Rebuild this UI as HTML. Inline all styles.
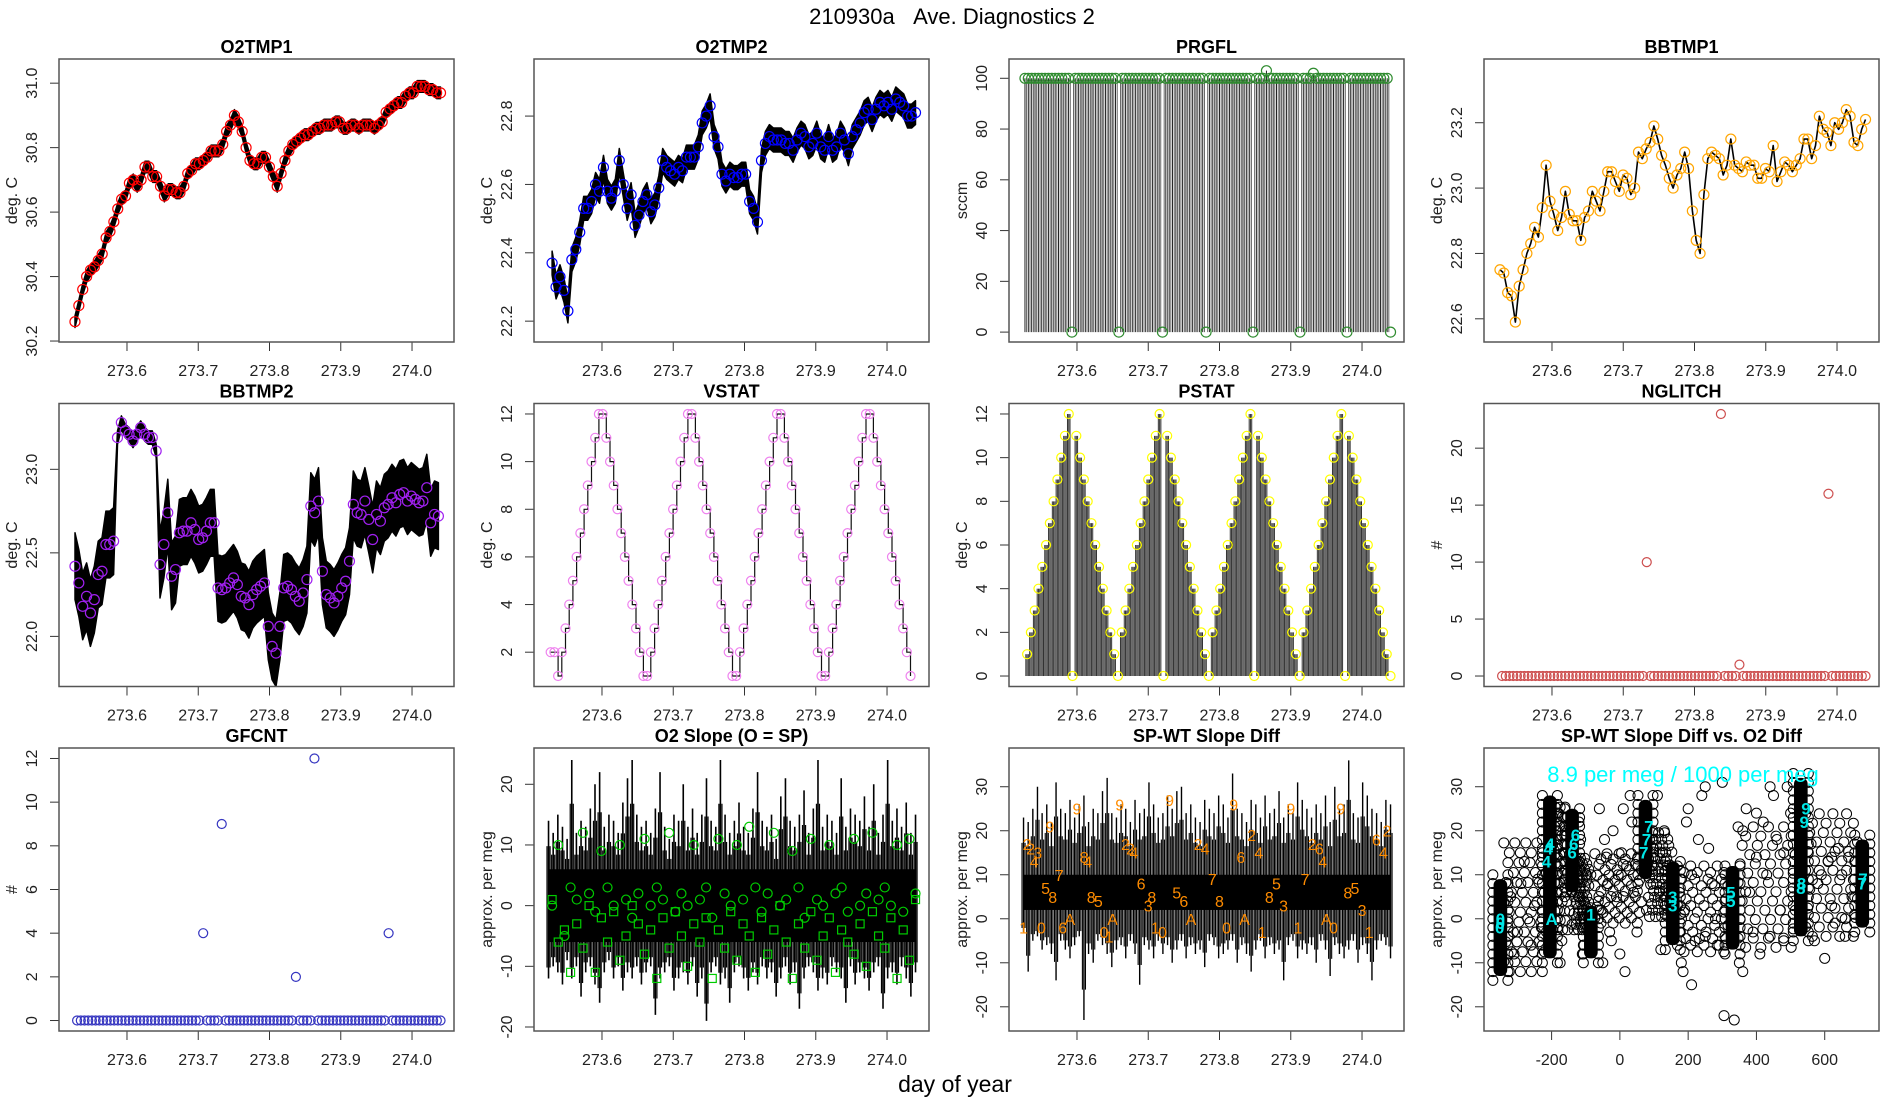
<!DOCTYPE html>
<html><head><meta charset="utf-8"><title>210930a Ave. Diagnostics 2</title>
<style>html,body{margin:0;padding:0;background:#fff}svg{display:block;font-family:"Liberation Sans",sans-serif}</style>
</head><body>
<svg id="chart" width="1900" height="1100" viewBox="0 0 1900 1100" xmlns="http://www.w3.org/2000/svg">
<rect x="0" y="0" width="1900" height="1100" fill="#fff"/>
<text x="952" y="24" font-size="22" text-anchor="middle">210930a &#160;&#160;Ave. Diagnostics 2</text>
<text x="955" y="1092" font-size="23" text-anchor="middle">day of year</text>
</svg>
<script>
// ---------- data ----------
const timeTicks = [273.6, 273.7, 273.8, 273.9, 274.0];
const timeTickLabels = ["273.6", "273.7", "273.8", "273.9", "274.0"];

const o2tmp1Values = [30.26,30.31,30.36,30.40,30.42,30.43,30.45,30.47,30.52,30.54,30.57,30.61,30.64,30.65,30.69,30.70,30.68,30.70,30.74,30.74,30.71,30.71,30.68,30.65,30.67,30.67,30.66,30.66,30.68,30.72,30.73,30.75,30.75,30.76,30.77,30.79,30.79,30.79,30.81,30.85,30.87,30.90,30.88,30.85,30.80,30.76,30.75,30.75,30.77,30.77,30.74,30.71,30.68,30.72,30.76,30.79,30.81,30.82,30.83,30.84,30.84,30.85,30.86,30.86,30.87,30.87,30.87,30.88,30.88,30.86,30.86,30.87,30.87,30.86,30.87,30.87,30.87,30.86,30.87,30.88,30.91,30.92,30.93,30.94,30.94,30.96,30.97,30.97,30.99,30.99,30.99,30.98,30.98,30.97,30.97];
const o2tmp1Ticks = [30.2, 30.4, 30.6, 30.8, 31.0];

const o2tmp2Values = [22.37,22.30,22.33,22.29,22.23,22.38,22.41,22.46,22.53,22.53,22.55,22.60,22.58,22.65,22.58,22.56,22.58,22.67,22.60,22.53,22.57,22.48,22.51,22.55,22.57,22.52,22.54,22.59,22.67,22.65,22.64,22.63,22.65,22.64,22.68,22.68,22.68,22.71,22.78,22.80,22.83,22.74,22.71,22.63,22.61,22.63,22.62,22.62,22.63,22.63,22.55,22.53,22.49,22.67,22.72,22.74,22.73,22.73,22.73,22.72,22.72,22.70,22.73,22.75,22.74,22.71,22.72,22.75,22.71,22.70,22.74,22.70,22.71,22.75,22.73,22.69,22.74,22.76,22.78,22.81,22.82,22.79,22.82,22.84,22.83,22.84,22.82,22.85,22.84,22.83,22.80,22.80,22.81];
const o2tmp2Ticks = [22.2, 22.4, 22.6, 22.8];

const prgflValues = [100,100,100,100,100,100,100,100,100,100, 100,100,100,100,0,100,100,100,100,100, 100,100,100,100,100,100,100,100,0,100, 100,100,100,100,100,100,100,100,100,100, 100,0,100,100,100,100,100,100,100,100, 100,100,100,100,0,100,100,100,100,100, 100,100,100,100,100,100,100,100,0,100, 100,100,103,100,100,100,100,100,100,100, 100,100,0,100,100,100,102,100,100,100, 100,100,100,100,100,100,0,100,100,100, 100,100,100,100,100,100,100,100,100,0];
const prgflTicks = [0, 20, 40, 60, 80, 100];

const bbtmp1Values = [22.75,22.74,22.68,22.67,22.59,22.70,22.75,22.80,22.83,22.88,22.85,22.94,23.07,22.96,22.92,22.87,22.91,22.99,22.92,22.90,22.90,22.84,22.91,22.93,22.99,22.96,22.93,22.99,23.05,23.05,23.02,22.99,23.04,23.03,22.98,23.00,23.11,23.09,23.12,23.14,23.19,23.15,23.10,23.07,23.03,23.00,23.04,23.06,23.11,23.06,22.93,22.84,22.80,22.98,23.09,23.11,23.10,23.09,23.04,23.07,23.15,23.07,23.06,23.05,23.08,23.07,23.07,23.03,23.03,23.06,23.05,23.13,23.02,23.05,23.08,23.07,23.05,23.07,23.09,23.15,23.15,23.09,23.13,23.22,23.18,23.17,23.13,23.20,23.18,23.20,23.24,23.22,23.14,23.13,23.18,23.21];
const bbtmp1Ticks = [22.6, 22.8, 23.0, 23.2];

const bbtmp2Values = [22.42,22.32,22.18,22.24,22.14,22.22,22.37,22.39,22.55,22.55, 22.57,23.19,23.28,23.23,23.21,23.17,23.21,23.25,23.21,23.19, 23.19,23.11,22.43,22.55,22.74,22.36,22.40,22.62,22.63,22.63, 22.68,22.64,22.58,22.59,22.63,22.68,22.68,22.29,22.28,22.29, 22.32,22.35,22.31,22.24,22.23,22.19,22.25,22.28,22.30,22.32, 22.06,21.94,21.90,22.06,22.29,22.30,22.28,22.24,22.21,22.26, 22.34,22.78,22.74,22.81,22.39,22.25,22.23,22.20,22.24,22.29, 22.33,22.45,22.79,22.74,22.73,22.81,22.70,22.58,22.73,22.69, 22.77,22.79,22.83,22.80,22.85,22.86,22.81,22.84,22.82,22.80, 22.81,22.89,22.68,22.73,22.72];
const bbtmp2Spread = [0.2,0.2,0.2,0.2,0.2,0.2,0.2,0.2,0.2,0.2, 0.2,0.04,0.04,0.04,0.04,0.04,0.04,0.04,0.04,0.04, 0.04,0.04,0.2,0.2,0.2,0.2,0.2,0.2,0.2,0.2, 0.2,0.2,0.2,0.2,0.2,0.2,0.2,0.2,0.2,0.2, 0.2,0.2,0.2,0.2,0.2,0.2,0.2,0.2,0.2,0.2, 0.2,0.2,0.2,0.2,0.2,0.2,0.2,0.2,0.2,0.2, 0.2,0.2,0.2,0.2,0.2,0.2,0.2,0.2,0.2,0.2, 0.2,0.2,0.2,0.2,0.2,0.2,0.2,0.2,0.2,0.2, 0.2,0.2,0.2,0.2,0.2,0.2,0.2,0.2,0.2,0.2, 0.2,0.2,0.2,0.2,0.2];
const bbtmp2Ticks = [22.0, 22.5, 23.0];

const vstatValues = [2,2,1,2,3,4,5,6,7,8,9,10,11,12,12,11,10,9,8,7,6,5,4,3,2,1,1,2,3,4,5,6,7,8,9,10,11,12,12,11,10,9,8,7,6,5,4,3,2,1,1,2,3,4,5,6,7,8,9,10,11,12,12,11,10,9,8,7,6,5,4,3,2,1,1,2,3,4,5,6,7,8,9,10,11,12,12,11,10,9,8,7,6,5,4,3,2,1];
const vstatTicks = [2, 4, 6, 8, 10, 12];

const pstatValues = [1,2,3,4,5,6,7,8,9,10,11,12,0,11,10,9,8,7,6,5,4,3,2,1,0, 2,3,4,5,6,7,8,9,10,11,12,0,11,10,9,8,7,6,5,4,3,2,1,0, 2,3,4,5,6,7,8,9,10,11,12,0,11,10,9,8,7,6,5,4,3,2,1,0, 2,3,4,5,6,7,8,9,10,11,12,0,11,10,9,8,7,6,5,4,3,2,1,0];
const countTicks12 = [0, 2, 4, 6, 8, 10, 12];

const nglitchValues = [0,0,0,0,0,0,0,0,0,0, 0,0,0,0,0,0,0,0,0,0, 0,0,0,0,0,0,0,0,0,0, 0,0,0,0,0,0,0,0,0,10, 0,0,0,0,0,0,0,0,0,0, 0,0,0,0,0,0,0,0,0,23, 0,0,0,0,1,0,0,0,0,0, 0,0,0,0,0,0,0,0,0,0, 0,0,0,0,0,0,0,0,16,0, 0,0,0,0,0,0,0,0,0];
const nglitchTicks = [0, 5, 10, 15, 20];

const gfcntValues = [0,0,0,0,0,0,0,0,0,0, 0,0,0,0,0,0,0,0,0,0, 0,0,0,0,0,0,0,0,0,0, 0,0,0,0,4,0,0,0,0,9, 0,0,0,0,0,0,0,0,0,0, 0,0,0,0,0,0,0,0,0,2, 0,0,0,0,12,0,0,0,0,0, 0,0,0,0,0,0,0,0,0,0, 0,0,0,0,4,0,0,0,0,0, 0,0,0,0,0,0,0,0,0];

const slopeHi = [14,12,15,13,11,24,12,14,13,16,20,22,13,15,14,12,17,21,24,15,13,14,12,16,22,13,11,15,14,20,13,16,12,15,21,14,13,24,15,12,14,17,13,12,16,22,14,13,15,11,18,21,14,13,15,19,12,16,24,13,15,14,12,21,13,16,15,14,18,13,20,12,15,24,14,16,13,17,12,15];
const slopeLo = [-12,-10,-11,-13,-9,-12,-10,-15,-11,-10,-13,-16,-11,-9,-12,-10,-14,-11,-12,-10,-13,-11,-10,-18,-12,-11,-10,-14,-12,-11,-13,-10,-15,-12,-19,-11,-10,-13,-12,-16,-11,-10,-12,-14,-11,-13,-10,-12,-11,-15,-12,-10,-13,-11,-17,-12,-10,-11,-14,-12,-13,-10,-11,-12,-16,-10,-13,-11,-12,-14,-11,-10,-17,-12,-11,-13,-10,-12,-15,-11];
const slopeCircles = [0,10,-5,3,1,12,2,-1,9,3,0,10,1,-2,2,11,0,3,1,12,-1,2,0,10,1,3,-2,11,2,0,10,1,13,3,-1,2,12,0,1,9,3,-2,11,1,0,10,2,3,-1,11,0,2,12,1,3,0,10,-1,11,2];
const slopeSquares = [1,-6,-4,-11,-3,-7,0,-11,-2,-6,-1,-9,-5,0,-3,-8,-4,-12,-2,-7,-1,-5,-10,-3,-6,-2,-12,-4,-7,-1,-9,-3,-5,-11,-2,-8,-4,0,-6,-12,-3,-7,-1,-9,-5,-2,-11,-4,-6,-8,-3,-10,-1,-5,-7,-2,-12,-4,-9,1];
const slopeTicks = [-20, -10, 0, 10, 20];

const spwtHi = [23,22,25,30,24,26,22,31,25,24,27,23,26,28,22,25,24,29,32,24,23,26,25,22,27,24,25,31,26,23,24,28,25,29,30,24,26,23,22,27,25,24,28,26,23,33,25,24,22,27,26,23,28,24,25,29,23,26,24,31,27,25,23,26,24,28,22,30,25,26,36,24,23,31,28,25,24,22,27,26];
const spwtLo = [-3,-12,-5,-4,-7,-6,-8,-14,-5,-7,-9,-6,-4,-23,-8,-10,-5,-6,-8,-11,-7,-6,-9,-5,-8,-15,-6,-7,-9,-5,-8,-6,-10,-7,-5,-9,-6,-8,-7,-11,-5,-6,-9,-8,-7,-5,-10,-6,-8,-12,-7,-5,-9,-6,-8,-7,-14,-6,-5,-9,-7,-8,-6,-10,-5,-7,-13,-6,-8,-9,-7,-5,-10,-6,-8,-14,-7,-5,-6,-9];
const spwtLabelTimes = [273.525,273.53,273.535,273.54,273.545,273.55,273.556,273.562,273.566,273.575,273.58,273.59,273.6,273.61,273.615,273.62,273.63,273.638,273.645,273.65,273.66,273.668,273.675,273.68,273.69,273.70,273.705,273.71,273.72,273.73,273.74,273.75,273.76,273.77,273.78,273.79,273.8,273.81,273.82,273.83,273.835,273.845,273.855,273.86,273.87,273.88,273.89,273.9,273.91,273.92,273.93,273.94,273.945,273.95,273.96,273.97,273.98,273.99,274.0,274.01,274.02,274.03,274.035];
const spwtLabelChars = ['1','2','2','4','3','0','5','9','8','7','6','A','9','8','4','8','5','0','1','A','9','2','2','4','6','3','8','1','0','9','5','6','A','2','4','7','8','0','9','6','A','2','4','1','8','5','3','9','1','7','2','6','4','A','0','9','8','5','3','1','6','4','2'];
const spwtLabelValues = [-2,17,16,13,15,-2,7,21,5,10,-2,0,25,14,13,5,4,-3,-4,0,26,17,16,15,8,3,5,-2,-3,27,6,4,0,17,16,9,4,-2,26,14,0,19,15,-3,5,8,3,25,-2,9,17,16,13,0,-2,25,6,7,2,-3,18,15,20];
const spwtTicks = [-20, -10, 0, 10, 20, 30];

const clusterX = [-350, -205, -140, -85, 75, 155, 330, 530, 710];
const clusterLo = [-14, -10, 5, -10, 8, -7, -8, -5, -3];
const clusterHi = [10, 29, 26, 4, 28, 14, 13, 33, 19];
const cloudX = [-320,-300,-290,-270,-260,-250,-310,-280,-240,-230,-180,-170,-160,-120,-110,-100,-175,-165,-115,-105,-60,-50,-40,-30,-20,-10,0,10,20,30,-55,-45,-25,-5,15,35,40,50,-35,5,110,120,130,140,180,190,200,210,220,230,115,125,185,195,240,250,260,270,280,290,300,350,360,370,380,390,400,410,420,430,440,450,460,470,480,490,500,560,570,580,590,600,610,620,630,640,650,660,670,680,360,400,440,480,620,660,305,335,250,210];
const cloudY = [5,-3,8,0,-6,3,-8,13,9,-2,24,-5,20,22,-8,10,-10,15,18,-6,25,-10,14,-3,20,5,-8,25,12,28,2,18,-5,10,-12,22,6,-3,8,15,28,-7,20,12,-10,2,25,10,-5,18,6,15,-12,22,28,-4,16,8,0,-6,31,-10,20,25,6,-3,14,-8,22,10,-4,28,18,2,15,30,24,17,-5,8,10,-9,13,3,-1,16,10,0,14,5,-12,24,30,-5,14,-4,-22,-23,30,-15];
const cyanX = [-352,-350,-350,-215,-210,-205,-200,-140,-135,-130,-85,70,78,85,155,155,325,325,530,532,540,545,710,712];
const cyanY = [-2,0,-1,13,16,17,0,15,17,19,1,15,18,21,3,5,4,6,7,8,22,25,8,9];
const cyanChars = ['0','0','0','4','4','4','A','6','6','6','1','7','7','7','3','3','5','5','8','8','9','9','7','7'];
const scatterXTicks = [-200, 0, 200, 400, 600];

// ---------- helpers ----------
const svg = document.getElementById('chart');
const NS = 'http://www.w3.org/2000/svg';
function mk(parent, tag, attrs, name, inter) {
  const el = document.createElementNS(NS, tag);
  for (const k in attrs) el.setAttribute(k, attrs[k]);
  
  
  parent.appendChild(el);
  return el;
}
function fmt(v, d) { return v.toFixed(d); }
const TX = [273.5046, 274.0589];

function panel(ci, ri, o) {
  const L = 59 + 475 * ci, T = 59 + 344.5 * ri, W = 395, H = 283;
  const g = mk(svg, 'g', {}, o.key + '-panel', false);
  const sx = v => L + (v - o.xlim[0]) / (o.xlim[1] - o.xlim[0]) * W;
  const sy = v => T + H - (v - o.ylim[0]) / (o.ylim[1] - o.ylim[0]) * H;
  const t = mk(g, 'text', {x: L + W / 2, y: T - 6, 'font-size': 18, 'font-weight': 'bold', 'text-anchor': 'middle'}, o.key + '-title', false);
  t.textContent = o.title;
  const xt = o.xticks, xl = o.xlabels;
  mk(g, 'line', {x1: sx(xt[0]), x2: sx(xt[xt.length - 1]), y1: T + H, y2: T + H, stroke: '#333', 'stroke-width': 1}, o.key + '-x-axis', false);
  xt.forEach((v, i) => {
    mk(g, 'line', {x1: sx(v), x2: sx(v), y1: T + H, y2: T + H + 9, stroke: '#333', 'stroke-width': 1}, o.key + '-x-tick', false);
    const tl = mk(g, 'text', {x: sx(v), y: T + H + 34, 'font-size': 16, 'text-anchor': 'middle', fill: '#222'}, o.key + '-x-tick-label', false);
    tl.textContent = xl[i];
  });
  const yt = o.yticks;
  mk(g, 'line', {x1: L, x2: L, y1: sy(yt[0]), y2: sy(yt[yt.length - 1]), stroke: '#333', 'stroke-width': 1}, o.key + '-y-axis', false);
  yt.forEach(v => {
    mk(g, 'line', {x1: L - 9, x2: L, y1: sy(v), y2: sy(v), stroke: '#333', 'stroke-width': 1}, o.key + '-y-tick', false);
    const yl = mk(g, 'text', {x: 0, y: 0, 'font-size': 16, 'text-anchor': 'middle', fill: '#222', transform: 'translate(' + (L - 22) + ',' + sy(v) + ') rotate(-90)'}, o.key + '-y-tick-label', false);
    yl.textContent = o.ydec == null ? String(v) : fmt(v, o.ydec);
  });
  const yt2 = mk(g, 'text', {x: 0, y: 0, 'font-size': 16, 'text-anchor': 'middle', fill: '#222', transform: 'translate(' + (L - 42) + ',' + (T + H / 2) + ') rotate(-90)'}, o.key + '-y-axis-title', false);
  yt2.textContent = o.ylab;
  const clipId = 'clip-' + o.key;
  const cp = mk(g, 'clipPath', {id: clipId}, o.key + '-clip', false);
  mk(cp, 'rect', {x: L, y: T, width: W, height: H}, o.key + '-clip-rect', false);
  const plot = mk(g, 'g', {'clip-path': 'url(#' + clipId + ')'}, o.key + '-plot-area', false);
  const boxRect = () => mk(g, 'rect', {x: L, y: T, width: W, height: H, fill: 'none', stroke: '#555', 'stroke-width': 1.5}, o.key + '-frame', false);
  return {sx, sy, g: plot, L, T, W, H, boxRect};
}
function times(n, t0, t1) { const a = []; for (let i = 0; i < n; i++) a.push(t0 + (t1 - t0) * i / (n - 1)); return a; }
function band(p, ts, vals, spread, name) {
  let up = '', dn = '';
  for (let i = 0; i < vals.length; i++) {
    const s = Array.isArray(spread) ? spread[i] : spread;
    up += (i ? 'L' : 'M') + p.sx(ts[i]).toFixed(1) + ',' + p.sy(vals[i] + s).toFixed(1);
  }
  for (let i = vals.length - 1; i >= 0; i--) {
    const s = Array.isArray(spread) ? spread[i] : spread;
    dn += 'L' + p.sx(ts[i]).toFixed(1) + ',' + p.sy(vals[i] - s).toFixed(1);
  }
  mk(p.g, 'path', {d: up + dn + 'Z', fill: '#000', stroke: '#000', 'stroke-width': 1.5, 'stroke-linejoin': 'round'}, name, false);
}
function polyline(p, ts, vals, w, name) {
  const pts = vals.map((v, i) => p.sx(ts[i]).toFixed(1) + ',' + p.sy(v).toFixed(1)).join(' ');
  mk(p.g, 'polyline', {points: pts, fill: 'none', stroke: '#000', 'stroke-width': w, 'stroke-linejoin': 'round'}, name, false);
}
function circles(p, ts, vals, color, name, r) {
  vals.forEach((v, i) => {
    mk(p.g, 'circle', {cx: p.sx(ts[i]), cy: p.sy(v), r: r || 5, fill: 'none', stroke: color, 'stroke-width': 1.2}, name, false);
  });
}
const base = {xlim: TX, xticks: timeTicks, xlabels: timeTickLabels};

// ---------- O2TMP1 ----------
{
  const p = panel(0, 0, Object.assign({key: 'o2tmp1', title: 'O2TMP1', ylim: [30.197, 31.075], yticks: o2tmp1Ticks, ydec: 1, ylab: 'deg. C'}, base));
  const ts = times(o2tmp1Values.length, 273.527, 274.04);
  band(p, ts, o2tmp1Values, 0.018, 'o2tmp1-signal-band');
  circles(p, ts, o2tmp1Values, '#ff0000', 'o2tmp1-average-point');
  p.boxRect();
}
// ---------- O2TMP2 ----------
{
  const p = panel(1, 0, Object.assign({key: 'o2tmp2', title: 'O2TMP2', ylim: [22.139, 22.967], yticks: o2tmp2Ticks, ydec: 1, ylab: 'deg. C'}, base));
  const ts = times(o2tmp2Values.length, 273.53, 274.04);
  band(p, ts, o2tmp2Values, 0.035, 'o2tmp2-signal-band');
  circles(p, ts, o2tmp2Values, '#0000ff', 'o2tmp2-average-point');
  p.boxRect();
}
// ---------- PRGFL ----------
{
  const p = panel(2, 0, Object.assign({key: 'prgfl', title: 'PRGFL', ylim: [-3.9, 107.6], yticks: prgflTicks, ylab: 'sccm'}, base));
  const ts = times(prgflValues.length, 273.527, 274.04);
  prgflValues.forEach((v, i) => {
    mk(p.g, 'line', {x1: p.sx(ts[i]), x2: p.sx(ts[i]), y1: p.sy(0), y2: p.sy(v), stroke: '#222', 'stroke-width': 1}, 'prgfl-flow-bar', false);
    if (i > 0) mk(p.g, 'line', {x1: p.sx((ts[i] + ts[i - 1]) / 2), x2: p.sx((ts[i] + ts[i - 1]) / 2), y1: p.sy(0), y2: p.sy(Math.max(v, prgflValues[i - 1]) > 0 ? 100 : 0), stroke: '#444', 'stroke-width': 0.8}, 'prgfl-flow-bar', false);
  });
  circles(p, ts, prgflValues, '#2e8b2e', 'prgfl-average-point');
  p.boxRect();
}
// ---------- BBTMP1 ----------
{
  const p = panel(3, 0, Object.assign({key: 'bbtmp1', title: 'BBTMP1', ylim: [22.529, 23.395], yticks: bbtmp1Ticks, ydec: 1, ylab: 'deg. C'}, base));
  const ts = times(bbtmp1Values.length, 273.527, 274.04);
  polyline(p, ts, bbtmp1Values, 1.6, 'bbtmp1-signal-line');
  circles(p, ts, bbtmp1Values, '#ffa500', 'bbtmp1-average-point');
  p.boxRect();
}
// ---------- BBTMP2 ----------
{
  const p = panel(0, 1, Object.assign({key: 'bbtmp2', title: 'BBTMP2', ylim: [21.70, 23.394], yticks: bbtmp2Ticks, ydec: 1, ylab: 'deg. C'}, base));
  const ts = times(bbtmp2Values.length, 273.527, 274.037);
  band(p, ts, bbtmp2Values, bbtmp2Spread, 'bbtmp2-signal-band');
  circles(p, ts, bbtmp2Values, '#a020f0', 'bbtmp2-average-point');
  p.boxRect();
}
// ---------- VSTAT ----------
{
  const p = panel(1, 1, Object.assign({key: 'vstat', title: 'VSTAT', ylim: [0.56, 12.44], yticks: vstatTicks, ylab: 'deg. C'}, base));
  const ts = times(vstatValues.length, 273.528, 274.033);
  let d = 'M' + p.sx(ts[0]) + ',' + p.sy(vstatValues[0]);
  for (let i = 1; i < vstatValues.length; i++) d += 'H' + p.sx(ts[i]).toFixed(1) + 'V' + p.sy(vstatValues[i]).toFixed(1);
  mk(p.g, 'path', {d: d, fill: 'none', stroke: '#111', 'stroke-width': 1.2}, 'vstat-step-line', false);
  circles(p, ts, vstatValues, '#ee82ee', 'vstat-average-point', 4.5);
  p.boxRect();
}
// ---------- PSTAT ----------
{
  const p = panel(2, 1, Object.assign({key: 'pstat', title: 'PSTAT', ylim: [-0.48, 12.48], yticks: countTicks12, ylab: 'deg. C'}, base));
  const ts = times(pstatValues.length, 273.53, 274.04);
  const dt = ts[1] - ts[0];
  pstatValues.forEach((v, i) => {
    [-1 / 3, 0, 1 / 3].forEach(f => {
      mk(p.g, 'line', {x1: p.sx(ts[i] + f * dt), x2: p.sx(ts[i] + f * dt), y1: p.sy(0), y2: p.sy(v), stroke: '#333', 'stroke-width': 1}, 'pstat-bar', false);
    });
  });
  circles(p, ts, pstatValues, '#ffff00', 'pstat-average-point', 4.5);
  p.boxRect();
}
// ---------- NGLITCH ----------
{
  const p = panel(3, 1, Object.assign({key: 'nglitch', title: 'NGLITCH', ylim: [-0.92, 23.92], yticks: nglitchTicks, ylab: '#'}, base));
  const ts = times(nglitchValues.length, 273.53, 274.04);
  circles(p, ts, nglitchValues, '#cd4f4f', 'nglitch-point', 4.5);
  p.boxRect();
}
// ---------- GFCNT ----------
{
  const p = panel(0, 2, Object.assign({key: 'gfcnt', title: 'GFCNT', ylim: [-0.48, 12.48], yticks: countTicks12, ylab: '#'}, base));
  const ts = times(gfcntValues.length, 273.53, 274.04);
  circles(p, ts, gfcntValues, '#3535c0', 'gfcnt-point', 4.5);
  p.boxRect();
}
// ---------- O2 Slope ----------
{
  const p = panel(1, 2, Object.assign({key: 'o2slope', title: 'O2 Slope (O = SP)', ylim: [-20.66, 25.98], yticks: slopeTicks, ylab: 'approx. per meg'}, base));
  const ts = times(slopeHi.length, 273.525, 274.04);
  const sub = [-0.33, 0, 0.33];
  mk(p.g, 'rect', {x: p.sx(273.525), y: p.sy(6), width: p.sx(274.04) - p.sx(273.525), height: p.sy(-6) - p.sy(6), fill: '#000'}, 'o2slope-dense-core', false);
  slopeHi.forEach((h, i) => {
    const dt = ts[1] - ts[0];
    mk(p.g, 'line', {x1: p.sx(ts[i]), x2: p.sx(ts[i]), y1: p.sy(h), y2: p.sy(slopeLo[i]), stroke: '#000', 'stroke-width': 1.6}, 'o2slope-spike', false);
    sub.forEach(f => mk(p.g, 'line', {x1: p.sx(ts[i] + f * dt), x2: p.sx(ts[i] + f * dt), y1: p.sy(h * 0.7), y2: p.sy(slopeLo[i] * 0.85), stroke: '#000', 'stroke-width': 1.2}, 'o2slope-spike', false));
  });
  const tc = times(slopeCircles.length, 273.53, 274.04);
  circles(p, tc, slopeCircles, '#00cc00', 'o2slope-circle-marker', 4.5);
  const tq = times(slopeSquares.length, 273.53, 274.04);
  slopeSquares.forEach((v, i) => {
    mk(p.g, 'rect', {x: p.sx(tq[i]) - 4, y: p.sy(v) - 4, width: 8, height: 8, fill: 'none', stroke: '#00cc00', 'stroke-width': 1.2}, 'o2slope-square-marker', false);
  });
  p.boxRect();
}
// ---------- SP-WT Slope Diff ----------
{
  const p = panel(2, 2, Object.assign({key: 'spwt', title: 'SP-WT Slope Diff', ylim: [-25.5, 38.8], yticks: spwtTicks, ylab: 'approx. per meg'}, base));
  const ts = times(spwtHi.length, 273.525, 274.04);
  const dt = ts[1] - ts[0];
  mk(p.g, 'rect', {x: p.sx(273.525), y: p.sy(10), width: p.sx(274.04) - p.sx(273.525), height: p.sy(2) - p.sy(10), fill: '#000'}, 'spwt-dense-core', false);
  spwtHi.forEach((h, i) => {
    mk(p.g, 'line', {x1: p.sx(ts[i]), x2: p.sx(ts[i]), y1: p.sy(h), y2: p.sy(spwtLo[i]), stroke: '#000', 'stroke-width': 1.4}, 'spwt-spike', false);
    [-0.33, 0.33].forEach(f => mk(p.g, 'line', {x1: p.sx(ts[i] + f * dt), x2: p.sx(ts[i] + f * dt), y1: p.sy(h * 0.75), y2: p.sy(spwtLo[i] * 0.7), stroke: '#000', 'stroke-width': 1.1}, 'spwt-spike', false));
  });
  const n = Math.min(spwtLabelTimes.length, spwtLabelChars.length, spwtLabelValues.length);
  for (let i = 0; i < n; i++) {
    const tx = mk(p.g, 'text', {x: p.sx(spwtLabelTimes[i]), y: p.sy(spwtLabelValues[i]) + 6, 'font-size': 16, fill: '#ff8c00', 'text-anchor': 'middle'}, 'spwt-label-marker', false);
    tx.textContent = spwtLabelChars[i];
  }
  p.boxRect();
}
// ---------- Scatter ----------
{
  const p = panel(3, 2, {key: 'scatter', title: 'SP-WT Slope Diff vs. O2 Diff', xlim: [-398, 759], ylim: [-25.5, 38.8], xticks: scatterXTicks, xlabels: scatterXTicks.map(String), yticks: spwtTicks, ylab: 'approx. per meg'});
  cloudX.forEach((x, i) => {
    if (i < cloudY.length) mk(p.g, 'circle', {cx: p.sx(x), cy: p.sy(cloudY[i]), r: 5, fill: 'none', stroke: '#000', 'stroke-width': 1}, 'scatter-cloud-point', false);
  });
  clusterX.forEach((cx, k) => {
    if (k === clusterX.length - 1) return;
    const nx = clusterX[k + 1];
    const lo = (clusterLo[k] + clusterLo[k + 1]) / 2, hi = (clusterHi[k] + clusterHi[k + 1]) / 2;
    for (let s = 1; s < 9; s++) {
      const x = cx + (nx - cx) * s / 9;
      for (let j = 0; j < 7; j++) {
        const y = lo + (hi - lo) * ((j + 0.5 * (s % 2)) / 7);
        mk(p.g, 'circle', {cx: p.sx(x + (j % 3 - 1) * 6), cy: p.sy(y), r: 5, fill: 'none', stroke: '#000', 'stroke-width': 1}, 'scatter-cloud-point', false);
      }
    }
  });
  clusterX.forEach((cx, k) => {
    mk(p.g, 'rect', {x: p.sx(cx - 20), y: p.sy(clusterHi[k] - 1), width: p.sx(cx + 20) - p.sx(cx - 20), height: p.sy(clusterLo[k] + 1) - p.sy(clusterHi[k] - 1), rx: 6, fill: '#000'}, 'scatter-cluster-core', false);
    for (let y = clusterLo[k]; y <= clusterHi[k]; y += 2) {
      [-22, 22].forEach(dx => mk(p.g, 'circle', {cx: p.sx(cx + dx), cy: p.sy(y), r: 5, fill: 'none', stroke: '#000', 'stroke-width': 1}, 'scatter-cluster-point', false));
    }
  });
  const n = Math.min(cyanX.length, cyanY.length, cyanChars.length);
  for (let i = 0; i < n; i++) {
    const tx = mk(p.g, 'text', {x: p.sx(cyanX[i]), y: p.sy(cyanY[i]) + 6, 'font-size': 17, fill: '#00e5e5', 'text-anchor': 'middle', 'font-weight': 'bold'}, 'scatter-cyan-marker', false);
    tx.textContent = cyanChars[i];
  }
  const ann = mk(p.g, 'text', {x: 1683, y: 782, 'font-size': 22, fill: '#00ffff', 'text-anchor': 'middle'}, 'scatter-slope-annotation', false);
  ann.textContent = '8.9 per meg / 1000 per meg';
  p.boxRect();
}
</script>
</body></html>
